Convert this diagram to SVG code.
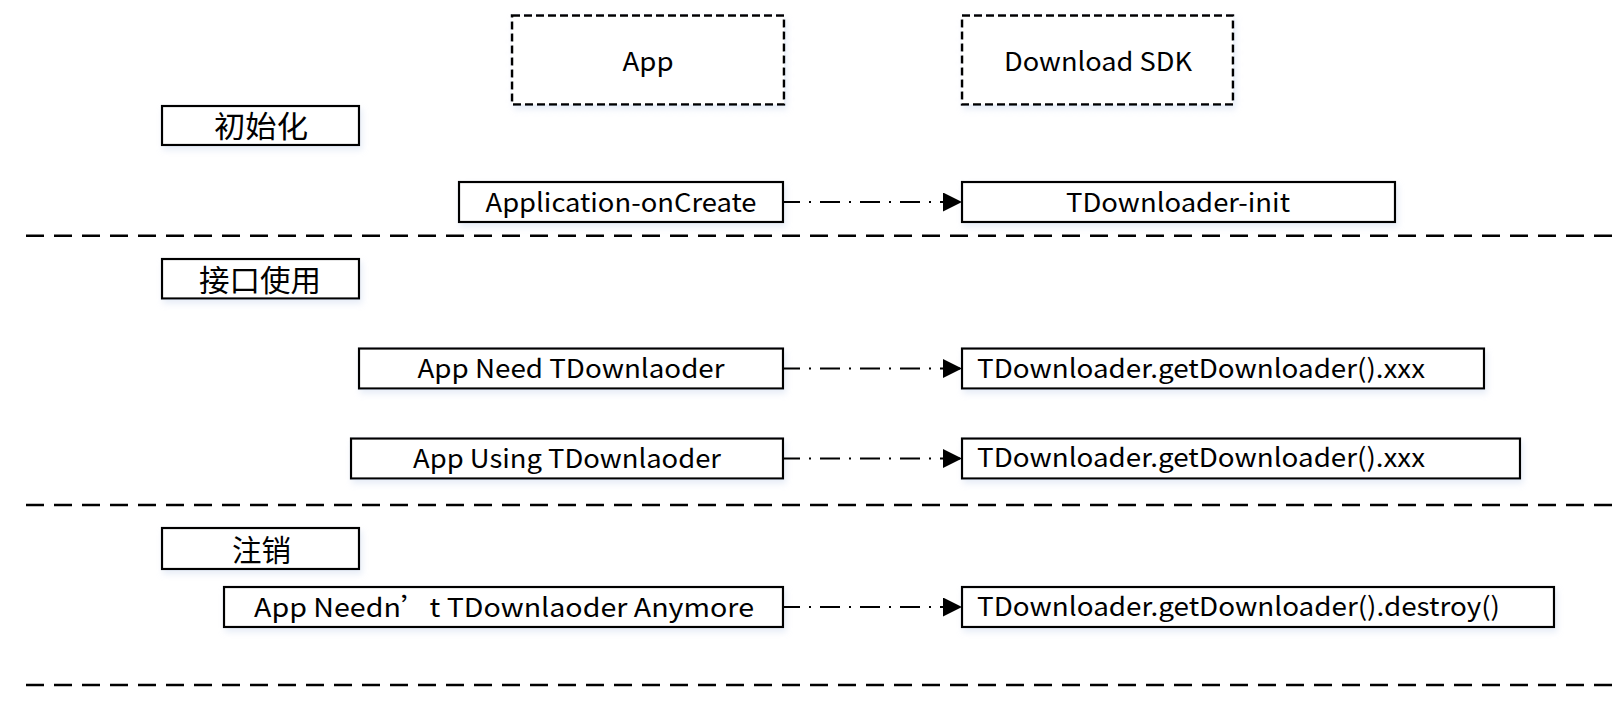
<svg xmlns="http://www.w3.org/2000/svg" width="1614" height="709" viewBox="0 0 1614 709">
<style>
  text { font-family: "Noto Sans CJK SC", "Liberation Sans", sans-serif; fill: #000; }
  .lat { font-size: 26px; }
  .cjk { font-size: 30px; }
  .mid { text-anchor: middle; }
  .box { fill: #fff; stroke: #000; stroke-width: 2.2; filter: url(#sh); }
  .lane { fill: #fff; stroke: #000; stroke-width: 2.5; stroke-dasharray: 8 4; filter: url(#sh); }
  .sep { fill: none; stroke: #000; stroke-width: 2.5; stroke-dasharray: 18 10; }
  .conn { fill: none; stroke: #000; stroke-width: 2; stroke-dasharray: 20 9 2 9; marker-end: url(#arr); }
</style>
<defs>
  <filter id="sh" x="-5%" y="-20%" width="110%" height="150%">
    <feDropShadow dx="2" dy="4" stdDeviation="3" flood-color="#b9cbe8" flood-opacity="0.35"/>
  </filter>
  <marker id="arr" markerUnits="userSpaceOnUse" markerWidth="20" markerHeight="20" refX="19" refY="9.5" orient="auto">
    <path d="M0,0 L19,9.5 L0,19 Z" fill="#000"/>
  </marker>
</defs>
<rect width="1614" height="709" fill="#fff"/>

<g id="separators">
  <line class="sep" x1="26" y1="235.7" x2="1614" y2="235.7"/>
  <line class="sep" x1="26" y1="505" x2="1614" y2="505"/>
  <line class="sep" x1="26" y1="685" x2="1614" y2="685"/>
</g>

<g id="lane-app">
  <rect class="lane" x="512" y="15.5" width="272" height="89"/>
  <text class="lat mid" x="648" y="70.5" textLength="51" lengthAdjust="spacingAndGlyphs">App</text>
</g>
<g id="lane-sdk">
  <rect class="lane" x="962" y="15.5" width="271" height="89"/>
  <text class="lat mid" x="1098" y="71" textLength="188" lengthAdjust="spacingAndGlyphs">Download SDK</text>
</g>

<g id="phase-init">
  <rect class="box" x="162" y="106" width="197" height="39"/>
  <text class="cjk mid" x="261" y="137.4" textLength="94" lengthAdjust="spacingAndGlyphs">初始化</text>
</g>
<g id="phase-use">
  <rect class="box" x="162" y="259" width="197" height="39.5"/>
  <text class="cjk mid" x="260" y="290.9" textLength="122" lengthAdjust="spacingAndGlyphs">接口使用</text>
</g>
<g id="phase-destroy">
  <rect class="box" x="162" y="528" width="197" height="41"/>
  <text class="cjk mid" x="261.5" y="560.6" textLength="59" lengthAdjust="spacingAndGlyphs">注销</text>
</g>

<g id="app-oncreate">
  <rect class="box" x="459" y="182" width="324" height="40"/>
  <text class="lat mid" x="621" y="211.7" textLength="271" lengthAdjust="spacingAndGlyphs">Application-onCreate</text>
</g>
<g id="sdk-init">
  <rect class="box" x="962" y="182" width="433" height="40"/>
  <text class="lat mid" x="1178" y="211.7" textLength="224" lengthAdjust="spacingAndGlyphs">TDownloader-init</text>
</g>

<g id="app-need">
  <rect class="box" x="359" y="348.5" width="424" height="40"/>
  <text class="lat mid" x="571" y="378.3" textLength="307" lengthAdjust="spacingAndGlyphs">App Need TDownlaoder</text>
</g>
<g id="sdk-xxx-1">
  <rect class="box" x="962" y="348.5" width="522" height="40"/>
  <text class="lat" x="977" y="377.5" textLength="448" lengthAdjust="spacingAndGlyphs">TDownloader.getDownloader().xxx</text>
</g>

<g id="app-using">
  <rect class="box" x="351" y="438.5" width="432" height="40"/>
  <text class="lat mid" x="567" y="468" textLength="308" lengthAdjust="spacingAndGlyphs">App Using TDownlaoder</text>
</g>
<g id="sdk-xxx-2">
  <rect class="box" x="962" y="438.5" width="558" height="40"/>
  <text class="lat" x="977" y="467" textLength="448" lengthAdjust="spacingAndGlyphs">TDownloader.getDownloader().xxx</text>
</g>

<g id="app-neednt">
  <rect class="box" x="224" y="587" width="559" height="40"/>
  <text class="lat mid" x="504" y="616.5" textLength="500" lengthAdjust="spacingAndGlyphs">App Needn’t TDownlaoder Anymore</text>
</g>
<g id="sdk-destroy">
  <rect class="box" x="962" y="587" width="592" height="40"/>
  <text class="lat" x="977" y="615.5" textLength="523" lengthAdjust="spacingAndGlyphs">TDownloader.getDownloader().destroy()</text>
</g>

<g id="connectors">
  <line class="conn" x1="783" y1="202" x2="962" y2="202" stroke-dashoffset="3"/>
  <line class="conn" x1="783" y1="368.5" x2="962" y2="368.5" stroke-dashoffset="3"/>
  <line class="conn" x1="783" y1="458.5" x2="962" y2="458.5" stroke-dashoffset="3"/>
  <line class="conn" x1="783" y1="607" x2="962" y2="607" stroke-dashoffset="3"/>
</g>
</svg>
